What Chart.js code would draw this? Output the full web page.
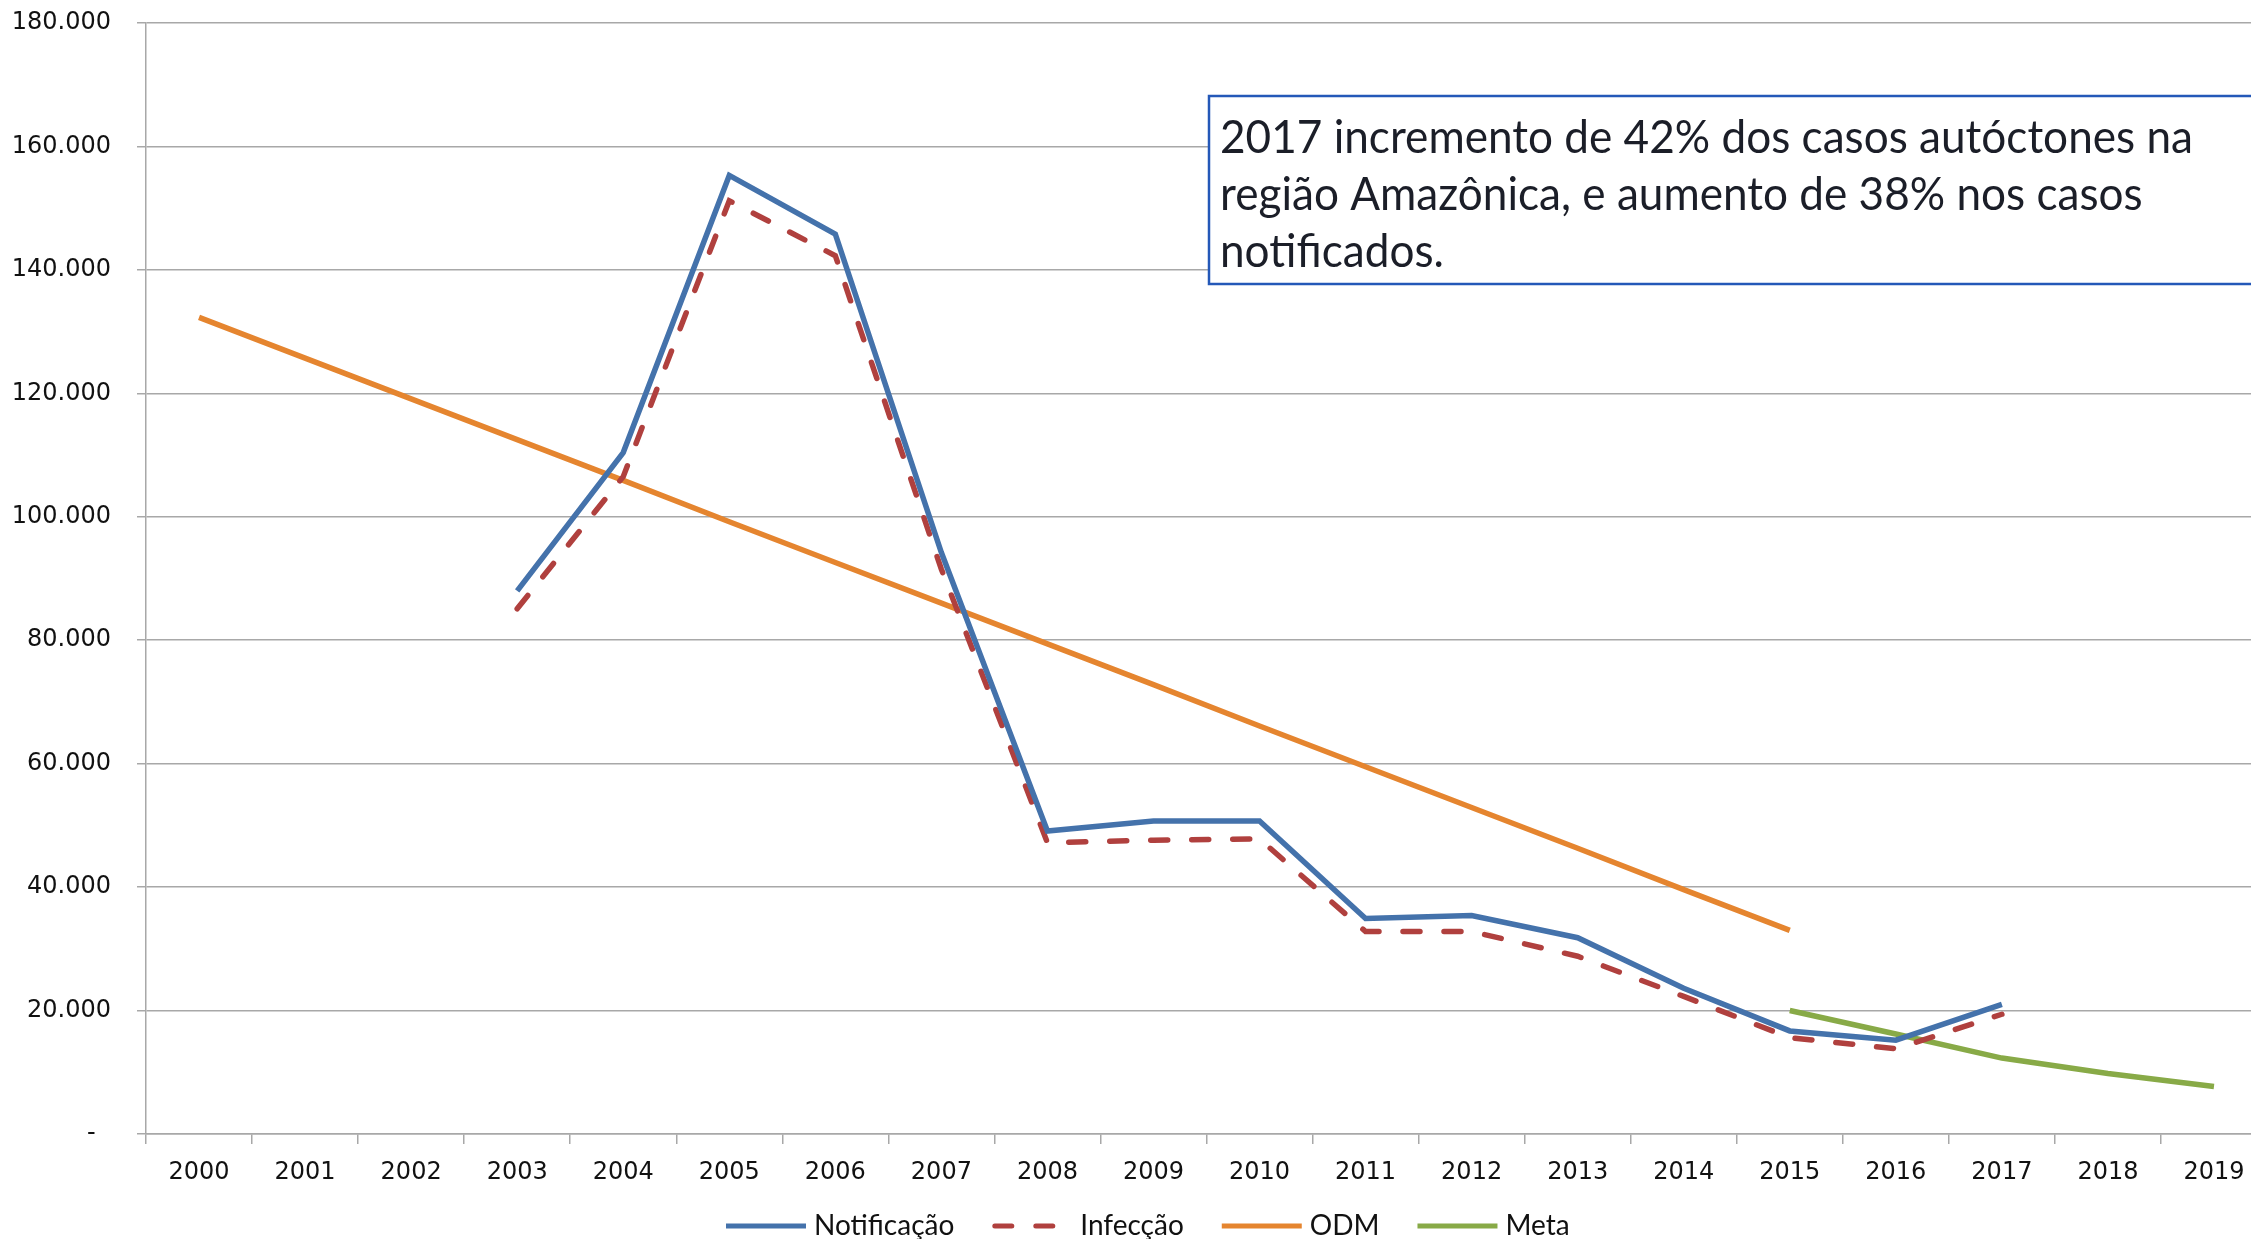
<!DOCTYPE html>
<html>
<head>
<meta charset="utf-8">
<script src="https://cdn.jsdelivr.net/npm/chart.js@4.4.1/dist/chart.umd.min.js"></script>
<style>
  html, body { margin: 0; padding: 0; background: #fff; overflow: hidden; }
  canvas { display: block; }
</style>
</head>
<body>
<canvas id="chart" width="2268" height="1239"></canvas>
<script>
const years = ["2000", "2001", "2002", "2003", "2004", "2005", "2006", "2007", "2008", "2009",
               "2010", "2011", "2012", "2013", "2014", "2015", "2016", "2017", "2018", "2019"];

const notificacao = [null, null, null, 88000, 110400, 155300, 145800, 94200, 49100, 50700,
                     50700, 34900, 35400, 31800, 23600, 16700, 15200, 21000, null, null];
const infeccao = [null, null, null, 85100, 106500, 151200, 142300, 91500, 47200, 47600,
                  47800, 32800, 32800, 28800, 22300, 15600, 13800, 19400, null, null];
const odm = [132300, 125700, 119100, 112500, 105900, 99200, 92600, 86000, 79400, 72800,
             66100, 59500, 52900, 46300, 39600, 33000, null, null, null, null];
const meta = [null, null, null, null, null, null, null, null, null, null,
              null, null, null, null, null, 20000, 16200, 12300, 9800, 7700];

const noteLines = [
  "2017 incremento de 42% dos casos autóctones na",
  "região Amazônica, e aumento de 38% nos casos",
  "notificados."
];

const textFont = 'Lato, "Open Sans", "Noto Sans", sans-serif';

function fmt(v) {
  if (v === 0) return "-  ";
  return String(v).replace(/\B(?=(\d{3})+(?!\d))/g, ".");
}

// caixa de texto sobre o gráfico
const noteBox = {
  id: "noteBox",
  afterDraw(chart) {
    const ctx = chart.ctx;
    ctx.save();
    ctx.fillStyle = "#ffffff";
    ctx.fillRect(1209, 96, 1100, 188);
    ctx.strokeStyle = "#2458b8";
    ctx.lineWidth = 2.5;
    ctx.strokeRect(1209, 96, 1100, 188);
    ctx.font = "46px " + textFont;
    ctx.fillStyle = "#1b1e28";
    ctx.textBaseline = "alphabetic";
    const w = ctx.measureText(noteLines[0]).width;
    const sx = 973 / w;
    noteLines.forEach((line, i) => {
      ctx.save();
      ctx.translate(1220, 153 + i * 57);
      ctx.scale(sx, 1);
      ctx.fillText(line, 0, 0);
      ctx.restore();
    });
    ctx.restore();
  }
};

// legenda em baixo, desenhada a partir dos datasets
const bottomLegend = {
  id: "bottomLegend",
  afterDraw(chart) {
    const ctx = chart.ctx;
    const y = 1226;
    let x = 726;
    ctx.save();
    ctx.font = "28px " + textFont;
    ctx.textBaseline = "middle";
    ctx.textAlign = "left";
    chart.data.datasets.forEach(ds => {
      ctx.strokeStyle = ds.borderColor;
      ctx.lineWidth = 5;
      ctx.setLineDash(ds.borderDash || []);
      ctx.lineCap = ds.borderDash ? "round" : "butt";
      ctx.beginPath();
      ctx.moveTo(x + (ds.borderDash ? 2.5 : 0), y);
      ctx.lineTo(x + 80, y);
      ctx.stroke();
      ctx.setLineDash([]);
      ctx.fillStyle = "#111";
      ctx.fillText(ds.label, x + 88, y);
      x += 88 + ctx.measureText(ds.label).width + 38;
    });
    ctx.restore();
  }
};

const gridColor = "#a8a8a8";

new Chart(document.getElementById("chart"), {
  type: "line",
  data: {
    labels: years,
    datasets: [
      {
        label: "Notificação",
        data: notificacao,
        borderColor: "#4472ab",
        backgroundColor: "#4472ab",
        borderWidth: 5.5
      },
      {
        label: "Infecção",
        data: infeccao,
        borderColor: "#b0403e",
        backgroundColor: "#b0403e",
        borderWidth: 5.5,
        borderDash: [17, 24],
        borderCapStyle: "round"
      },
      {
        label: "ODM",
        data: odm,
        borderColor: "#e5852f",
        backgroundColor: "#e5852f",
        borderWidth: 5.5
      },
      {
        label: "Meta",
        data: meta,
        borderColor: "#88aa47",
        backgroundColor: "#88aa47",
        borderWidth: 5.5
      }
    ]
  },
  options: {
    responsive: false,
    animation: false,
    layout: { padding: { top: 23, right: 1, left: 0, bottom: 45 } },
    elements: {
      point: { radius: 0, hoverRadius: 0 },
      line: { tension: 0, borderJoinStyle: "miter" }
    },
    plugins: {
      tooltip: { enabled: false },
      legend: { display: false }
    },
    scales: {
      x: {
        offset: true,
        afterFit(scale) { scale.height = 60; },
        grid: {
          offset: true,
          drawOnChartArea: false,
          drawTicks: true,
          tickLength: 10,
          color: gridColor,
          lineWidth: 1.5
        },
        border: { color: gridColor, width: 1.5 },
        ticks: {
          color: "#111",
          padding: 14,
          maxRotation: 0,
          autoSkip: false,
          font: { family: "DejaVu Sans", size: 24 }
        }
      },
      y: {
        min: 0,
        max: 180000,
        afterFit(scale) {
          scale.width = 146;
          scale.paddingTop = 0;
          scale.paddingBottom = 0;
        },
        grid: {
          color: gridColor,
          lineWidth: 1.5,
          tickLength: 9
        },
        border: { color: gridColor, width: 1.5 },
        ticks: {
          stepSize: 20000,
          padding: 26,
          color: "#111",
          font: { family: "DejaVu Sans", size: 24 },
          callback: v => fmt(v)
        }
      }
    }
  },
  plugins: [noteBox, bottomLegend]
});
</script>
</body>
</html>
